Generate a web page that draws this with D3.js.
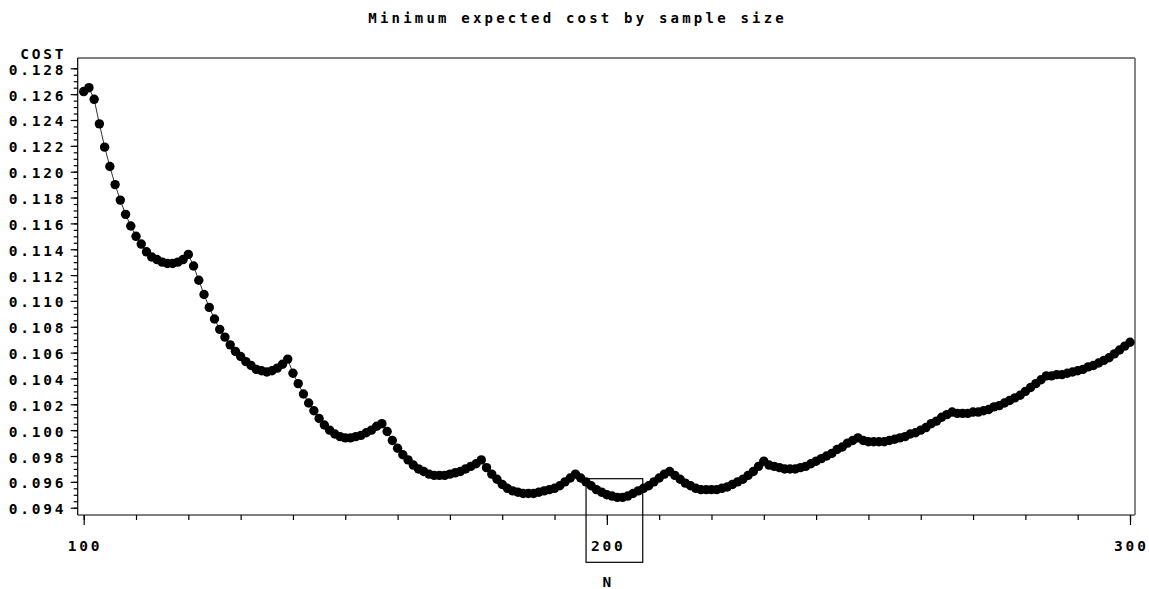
<!DOCTYPE html>
<html>
<head>
<meta charset="utf-8">
<script src="https://cdn.jsdelivr.net/npm/d3@7"></script>
<style>
  html, body { margin: 0; padding: 0; background: #fff; }
  svg { display: block; }
  text { font-family: "DejaVu Sans Mono", "Liberation Mono", monospace; font-weight: bold; fill: #000; }
</style>
</head>
<body>
<svg id="chart" width="1149" height="589"></svg>
<script>
// ---------------- data ----------------
const chartTitle = "Minimum expected cost by sample size";
const yLabel = "COST";
const xLabel = "N";
const sampleSizes = d3.range(100, 301);
const expectedCost = [
  0.1262, 0.1265,
  0.1256, 0.1237, 0.1219, 0.1204, 0.1190, 0.1178, 0.1167, 0.1158, 0.1150, 0.1144, 0.1138, 0.1134, 0.1132, 0.1130, 0.1129, 0.1129, 0.1130, 0.1132, 0.1136,
  0.1127, 0.1116, 0.1105, 0.1095, 0.1086, 0.1078, 0.1072, 0.1066, 0.1061, 0.1057, 0.1053, 0.1050, 0.1047, 0.1046, 0.1045, 0.1046, 0.1048, 0.1051, 0.1055,
  0.1044, 0.1036, 0.1028, 0.1021, 0.1015, 0.1009, 0.1004, 0.1000, 0.0997, 0.0995, 0.0994, 0.0994, 0.0995, 0.0996, 0.0998, 0.1000, 0.1003, 0.1005,
  0.0999, 0.0992, 0.0986, 0.0981, 0.0977, 0.0973, 0.0970, 0.0968, 0.0966, 0.0965, 0.0965, 0.0965, 0.0966, 0.0967, 0.0968, 0.0970, 0.0972, 0.0974, 0.0977,
  0.0971, 0.0966, 0.0962, 0.0958, 0.0955, 0.0953, 0.0952, 0.0951, 0.0951, 0.0951, 0.0952, 0.0953, 0.0954, 0.0955, 0.0957, 0.0960, 0.0963, 0.0966,
  0.0963, 0.0960, 0.0957, 0.0954, 0.0952, 0.0950, 0.0949, 0.0948, 0.0948, 0.0949, 0.0951, 0.0953, 0.0955, 0.0957, 0.0960, 0.0963, 0.0966, 0.0968,
  0.0965, 0.0962, 0.0959, 0.0957, 0.0955, 0.0954, 0.0954, 0.0954, 0.0954, 0.0955, 0.0956, 0.0958, 0.0960, 0.0962, 0.0965, 0.0968, 0.0972, 0.0976,
  0.0973, 0.0972, 0.0971, 0.0970, 0.0970, 0.0970, 0.0971, 0.0972, 0.0974, 0.0976, 0.0978, 0.0980, 0.0982, 0.0985, 0.0987, 0.0990, 0.0992, 0.0994,
  0.0992, 0.0991, 0.0991, 0.0991, 0.0991, 0.0992, 0.0993, 0.0994, 0.0995, 0.0997, 0.0998, 0.1000, 0.1002, 0.1005, 0.1007, 0.1010, 0.1012, 0.1014,
  0.1013, 0.1013, 0.1013, 0.1014, 0.1014, 0.1015, 0.1016, 0.1018, 0.1019, 0.1021, 0.1023, 0.1025, 0.1027, 0.1030, 0.1033, 0.1036, 0.1039, 0.1042,
  0.1042, 0.1043, 0.1043, 0.1044, 0.1045, 0.1046, 0.1047, 0.1049, 0.1050, 0.1052, 0.1054, 0.1056, 0.1059, 0.1062, 0.1065, 0.1068
];
const yMajorTicks = [0.094, 0.096, 0.098, 0.100, 0.102, 0.104, 0.106, 0.108, 0.110, 0.112, 0.114, 0.116, 0.118, 0.120, 0.122, 0.124, 0.126, 0.128];
const yTickLabels = ["0.094","0.096","0.098","0.100","0.102","0.104","0.106","0.108","0.110","0.112","0.114","0.116","0.118","0.120","0.122","0.124","0.126","0.128"];
const xMajorTicks = [100, 200, 300];
const xTickLabels = ["100", "200", "300"];
const xMinorStep = 10;
const yMinorStep = 0.0005;
const boxedTick = 200;

// ---------------- layout ----------------
const svg = d3.select("#chart");
svg.append("rect").attr("width", 1149).attr("height", 589).attr("fill", "#fff");

const x = d3.scaleLinear().domain([100, 300]).range([83.7, 1130]);
const y = d3.scaleLinear().domain([0.094, 0.128]).range([507.7, 68.3]);

const frame = { left: 77.7, right: 1135, top: 58, bottom: 515 };
const LS = 2.8; // letter spacing

// frame
svg.append("line").attr("x1", frame.left).attr("x2", frame.right).attr("y1", frame.top).attr("y2", frame.top)
  .attr("stroke", "#000").attr("stroke-width", 1);
svg.append("line").attr("x1", frame.left).attr("x2", frame.left).attr("y1", frame.top).attr("y2", frame.bottom)
  .attr("stroke", "#000").attr("stroke-width", 1.2);
svg.append("line").attr("x1", frame.left).attr("x2", frame.right).attr("y1", frame.bottom).attr("y2", frame.bottom)
  .attr("stroke", "#000").attr("stroke-width", 1);
svg.append("line").attr("x1", frame.right).attr("x2", frame.right).attr("y1", frame.top).attr("y2", frame.bottom)
  .attr("stroke", "#666").attr("stroke-width", 1.6);

// y axis ticks
const yMinor = d3.range(0, Math.round((0.128 - 0.094) / yMinorStep) + 1).map(i => 0.094 + i * yMinorStep);
const yAxisMinor = d3.axisLeft(y).tickValues(yMinor).tickSize(4).tickFormat("");
const yAxisMajor = d3.axisLeft(y).tickValues(yMajorTicks).tickSize(7).tickFormat("");
[yAxisMinor, yAxisMajor].forEach(ax => {
  const g = svg.append("g").attr("transform", `translate(${frame.left},0)`).call(ax);
  g.select(".domain").remove();
  g.selectAll(".tick line").attr("stroke", "#000").attr("stroke-width", 1.2);
});
svg.append("g").selectAll("text").data(yMajorTicks).join("text")
  .attr("x", 63.5 + LS).attr("y", d => y(d) + 1.5)
  .attr("text-anchor", "end").attr("dominant-baseline", "central")
  .attr("font-size", 14.5).attr("letter-spacing", LS)
  .text((d, i) => yTickLabels[i]);

// x axis ticks
const xMinor = d3.range(100, 301, xMinorStep);
const xAxisMinor = d3.axisBottom(x).tickValues(xMinor).tickSize(5).tickFormat("");
const xAxisMajor = d3.axisBottom(x).tickValues(xMajorTicks).tickSize(10).tickFormat("");
[xAxisMinor, xAxisMajor].forEach(ax => {
  const g = svg.append("g").attr("transform", `translate(0,${frame.bottom})`).call(ax);
  g.select(".domain").remove();
  g.selectAll(".tick line").attr("stroke", "#000").attr("stroke-width", 1.2);
});
svg.append("g").selectAll("text").data(xMajorTicks).join("text")
  .attr("x", d => x(d) + LS / 2).attr("y", 546)
  .attr("text-anchor", "middle").attr("dominant-baseline", "central")
  .attr("font-size", 14.5).attr("letter-spacing", LS)
  .text((d, i) => xTickLabels[i]);

// box around 200 label
svg.append("rect")
  .attr("x", x(boxedTick) - 20.8).attr("y", 478.7)
  .attr("width", 56.7).attr("height", 83.6)
  .attr("fill", "none").attr("stroke", "#000").attr("stroke-width", 1.2);

// axis titles
svg.append("text").attr("x", 63.5 + LS).attr("y", 54).attr("text-anchor", "end")
  .attr("dominant-baseline", "central").attr("font-size", 14.5).attr("letter-spacing", LS).text(yLabel);
svg.append("text").attr("x", x(200) + LS / 2).attr("y", 582).attr("text-anchor", "middle")
  .attr("dominant-baseline", "central").attr("font-size", 14.5).attr("letter-spacing", LS).text(xLabel);

// title
svg.append("text").attr("x", 576 + 1.6).attr("y", 18).attr("text-anchor", "middle")
  .attr("dominant-baseline", "central").attr("font-size", 14).attr("letter-spacing", 3.2).text(chartTitle);

// data
const pts = sampleSizes.map((n, i) => ({ n, c: expectedCost[i] }));
svg.append("path").datum(pts)
  .attr("fill", "none").attr("stroke", "#333").attr("stroke-width", 1)
  .attr("d", d3.line().x(d => x(d.n)).y(d => y(d.c)));
svg.append("g").selectAll("circle").data(pts).join("circle")
  .attr("cx", d => x(d.n)).attr("cy", d => y(d.c)).attr("r", 4.7).attr("fill", "#000");
</script>
</body>
</html>
